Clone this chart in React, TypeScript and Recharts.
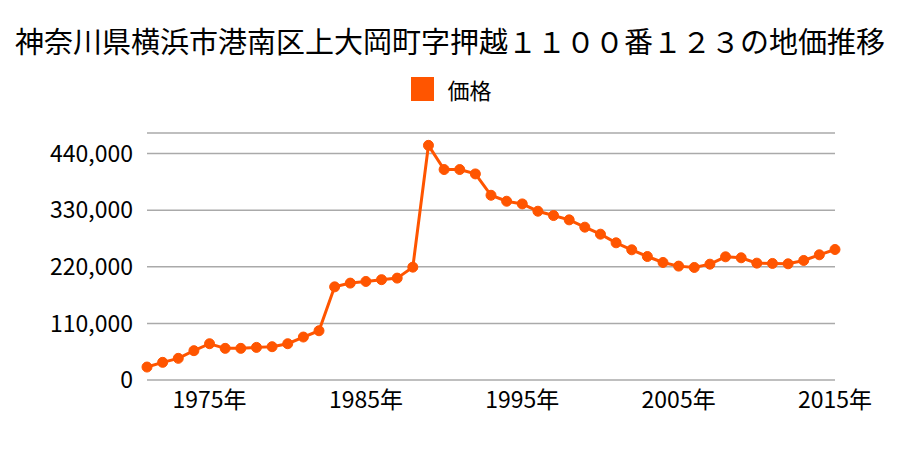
import { CartesianGrid, Line, LineChart, XAxis, YAxis } from 'recharts'

const years = [
  1971, 1972, 1973, 1974, 1975, 1976, 1977, 1978, 1979, 1980,
  1981, 1982, 1983, 1984, 1985, 1986, 1987, 1988, 1989, 1990,
  1991, 1992, 1993, 1994, 1995, 1996, 1997, 1998, 1999, 2000,
  2001, 2002, 2003, 2004, 2005, 2006, 2007, 2008, 2009, 2010,
  2011, 2012, 2013, 2014, 2015,
]

const prices = [
  25200, 34300, 42100, 57000, 70500, 61500, 61500, 63400, 64700, 70500,
  83500, 95700, 181000, 188300, 191500, 195000, 198000, 219300, 456000, 409000,
  409000, 400500, 359000, 347400, 342200, 328000, 319600, 311200, 297000, 283400,
  266600, 253000, 240000, 228400, 221300, 218700, 225100, 239400, 237500, 227100,
  226500, 225800, 232300, 243300, 253600,
]

const xTicks = [1975, 1985, 1995, 2005, 2015]
const yTicks = [0, 110000, 220000, 330000, 440000]

const title = '神奈川県横浜市港南区上大岡町字押越１１００番１２３の地価推移'
const seriesName = '価格'
const color = '#ff5500'
const font = '"Noto Sans CJK JP", "Noto Sans", sans-serif'

const chartData = years.map((year, i) => ({ year, price: prices[i] }))

export default function App() {
  return (
    <div style={{ position: 'absolute', top: 0, left: 0, width: 900, height: 450, background: '#fff' }}>
      <div
        style={{
          position: 'absolute',
          top: 20,
          left: 0,
          width: 900,
          textAlign: 'center',
          fontFamily: font,
          fontSize: 29,
          lineHeight: '40px',
          color: '#000',
          whiteSpace: 'nowrap',
        }}
      >
        {title}
      </div>
      <div
        style={{
          position: 'absolute',
          top: 73,
          left: 0,
          width: 900,
          height: 32,
          display: 'flex',
          justifyContent: 'center',
          alignItems: 'center',
          fontFamily: font,
          fontSize: 22,
          color: '#000',
        }}
      >
        <span style={{ display: 'inline-block', width: 23, height: 24, background: color, marginRight: 13, marginLeft: 3 }} />
        <span>{seriesName}</span>
      </div>
      <LineChart
        width={900}
        height={450}
        data={chartData}
        margin={{ top: 133, right: 65, bottom: 0, left: 10 }}
      >
        <CartesianGrid vertical={false} stroke="#aaaaaa" strokeWidth={1.5} />
        <XAxis
          dataKey="year"
          type="number"
          domain={[1971, 2015]}
          ticks={xTicks}
          tickFormatter={(v: number) => `${v}年`}
          axisLine={false}
          tickLine={false}
          tickMargin={6}
          tick={{ fill: '#000', fontSize: 23, fontFamily: font }}
          height={70}
        />
        <YAxis
          domain={[0, 480000]}
          ticks={yTicks}
          tickFormatter={(v: number) => v.toLocaleString('en-US')}
          axisLine={false}
          tickLine={false}
          tickMargin={8}
          width={137}
          tick={{ fill: '#000', fontSize: 23, fontFamily: font }}
        />
        <Line
          type="linear"
          dataKey="price"
          name={seriesName}
          stroke={color}
          strokeWidth={3}
          dot={{ r: 5, fill: color, stroke: color, strokeWidth: 1 }}
          activeDot={false}
          isAnimationActive={false}
        />
      </LineChart>
    </div>
  )
}
